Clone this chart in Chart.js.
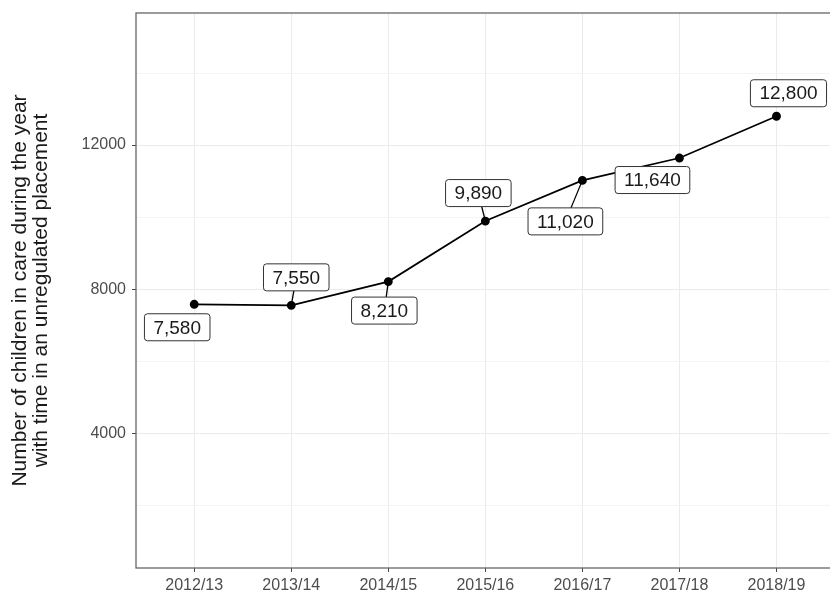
<!DOCTYPE html>
<html>
<head>
<meta charset="utf-8">
<script src="https://cdn.jsdelivr.net/npm/chart.js@4/dist/chart.umd.min.js"></script>
<style>
  html, body { margin: 0; padding: 0; background: #fff; overflow: hidden; }
  #wrap { width: 830px; height: 592px; overflow: hidden; }
</style>
</head>
<body>
<div id="wrap"><canvas id="chart" width="840" height="592"></canvas></div>
<script>
// data
const years = ['2012/13', '2013/14', '2014/15', '2015/16', '2016/17', '2017/18', '2018/19'];
const children = [7580, 7550, 8210, 9890, 11020, 11640, 12800];
const yTicks = [2000, 4000, 6000, 8000, 10000, 12000, 14000];

// label placement (pixel offset of box centre from its point, like ggrepel put them)
const labelOffsets = [[-17, 23], [5, -28], [-4, 29], [-7, -28], [-17, 41], [-27, 22], [12, -23]];

const FONT = '"Liberation Sans", Arial, Helvetica, sans-serif';
const BORDER = '#666666';

const repelLabels = {
    id: 'repelLabels',
    afterDatasetsDraw(chart) {
        const ctx = chart.ctx;
        const meta = chart.getDatasetMeta(0);
        const padX = 9, boxH = 27;
        ctx.save();
        ctx.font = '19px ' + FONT;
        const boxes = meta.data.map((pt, i) => {
            const text = children[i].toLocaleString('en-US');
            const w = ctx.measureText(text).width + padX * 2;
            return { text, w, px: pt.x, py: pt.y, cx: pt.x + labelOffsets[i][0], cy: pt.y + labelOffsets[i][1] };
        });
        // segments first
        ctx.strokeStyle = '#000';
        ctx.lineWidth = 1.3;
        boxes.forEach(b => {
            const vx = b.cx - b.px, vy = b.cy - b.py;
            const s = Math.min(vx ? (b.w / 2) / Math.abs(vx) : Infinity, vy ? (boxH / 2) / Math.abs(vy) : Infinity);
            const len = Math.hypot(vx, vy) * (1 - s);
            if (s < 1 && len > 13.5) {
                ctx.beginPath();
                ctx.moveTo(b.px, b.py);
                ctx.lineTo(b.cx - vx * s, b.cy - vy * s);
                ctx.stroke();
            }
        });
        // boxes + text
        boxes.forEach(b => {
            const x = b.cx - b.w / 2, y = b.cy - boxH / 2;
            ctx.beginPath();
            ctx.roundRect(x, y, b.w, boxH, 3);
            ctx.fillStyle = '#fff';
            ctx.fill();
            ctx.strokeStyle = '#333';
            ctx.lineWidth = 1;
            ctx.stroke();
            ctx.fillStyle = '#1a1a1a';
            ctx.textAlign = 'center';
            ctx.textBaseline = 'middle';
            ctx.fillText(b.text, b.cx, b.cy + 1);
        });
        ctx.restore();
    },
    afterDraw(chart) {
        const { ctx, chartArea: a } = chart;
        ctx.save();
        ctx.strokeStyle = BORDER;
        ctx.lineWidth = 1.3;
        ctx.strokeRect(a.left, a.top, a.right - a.left, a.bottom - a.top);
        ctx.restore();
    }
};

new Chart(document.getElementById('chart'), {
    type: 'line',
    data: {
        datasets: [{
            data: children.map((v, i) => ({ x: i, y: v })),
            borderColor: '#000',
            borderWidth: 1.7,
            backgroundColor: '#000',
            pointRadius: 3.6,
            pointHoverRadius: 3.6,
            tension: 0
        }]
    },
    options: {
        responsive: false,
        animation: false,
        layout: { padding: { top: 13, right: 4, left: 0, bottom: 0 } },
        plugins: { legend: { display: false }, tooltip: { enabled: false } },
        scales: {
            x: {
                type: 'linear',
                min: -0.6,
                max: 6.6,
                afterBuildTicks: s => { s.ticks = years.map((_, i) => ({ value: i })); },
                afterFit: s => { s.height = 24; s.paddingLeft = 0; s.paddingRight = 0; },
                border: { display: false },
                grid: { color: '#ebebeb', lineWidth: 1, tickLength: 4, tickColor: '#444' },
                ticks: {
                    callback: v => years[v],
                    color: '#4d4d4d',
                    font: { family: FONT, size: 16 },
                    padding: 4,
                    maxRotation: 0,
                    autoSkip: false
                }
            },
            y: {
                min: 258,
                max: 15667,
                afterBuildTicks: s => { s.ticks = yTicks.map(v => ({ value: v })); },
                afterFit: s => { s.width = 136; s.paddingTop = 0; s.paddingBottom = 0; },
                border: { display: false },
                grid: {
                    color: c => (c.tick && c.tick.value % 4000 === 0) ? '#ebebeb' : '#f4f4f4',
                    lineWidth: 1,
                    tickLength: 4,
                    tickColor: c => (c.tick && c.tick.value % 4000 === 0) ? '#444' : 'rgba(0,0,0,0)'
                },
                ticks: {
                    callback: v => v % 4000 === 0 ? String(v) : '',
                    color: '#4d4d4d',
                    font: { family: FONT, size: 16 },
                    padding: 6
                },
                title: {
                    display: true,
                    text: ['Number of children in care during the year', 'with time in an unregulated placement'],
                    color: '#1a1a1a',
                    font: { family: FONT, size: 21, lineHeight: 1.0 },
                    padding: { top: 10, bottom: 0 }
                }
            }
        }
    },
    plugins: [repelLabels]
});
</script>
</body>
</html>
